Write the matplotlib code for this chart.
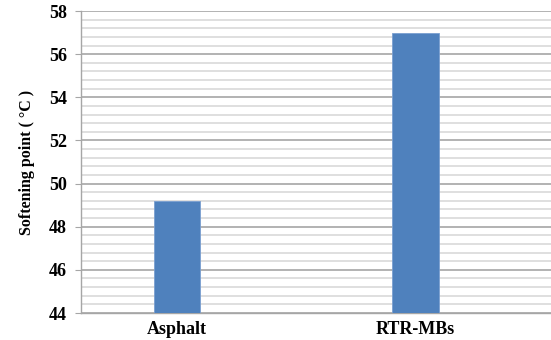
import matplotlib
matplotlib.use("Agg")
import matplotlib.pyplot as plt
from matplotlib.ticker import MultipleLocator

categories = ["Asphalt", "RTR-MBs"]
softening_point = [49.2, 57.0]

plt.rcParams["font.family"] = ["Liberation Serif", "DejaVu Serif"]

fig = plt.figure(figsize=(5.51, 3.40), dpi=100)
# plot area in pixels: left 81, right 551, top 11, bottom 313
ax = fig.add_axes([81 / 551, 27 / 340, 470 / 551, 302 / 340])

x = list(range(len(categories)))
ax.bar(x, softening_point, width=0.197, color="#4f81bd",
       edgecolor="#7a9fd0", linewidth=0.6, zorder=3)

ax.set_xlim(-0.403, 1.571)
ax.set_ylim(44, 58)
ax.yaxis.set_major_locator(MultipleLocator(2))
ax.yaxis.set_minor_locator(MultipleLocator(0.4))
ax.grid(which="major", axis="y", color="#a6a6a6", linewidth=1.2, zorder=0)
ax.grid(which="minor", axis="y", color="#d9d9d9", linewidth=1.2, zorder=0)

ax.set_xticks(x)
ax.set_xticklabels(categories, fontsize=13, fontweight="bold")
ax.tick_params(axis="x", length=0, pad=6)
ax.tick_params(axis="y", which="major", length=4, color="#a6a6a6",
               labelsize=13, pad=6)
ax.tick_params(axis="y", which="minor", length=0)
for lab in ax.get_yticklabels():
    lab.set_fontweight("bold")

for side in ["top", "right"]:
    ax.spines[side].set_visible(False)
for side in ["left", "bottom"]:
    ax.spines[side].set_color("#a6a6a6")
    ax.spines[side].set_linewidth(1.0)

ax.set_ylabel("Softening point ( °C )", fontsize=11.5, fontweight="bold",
              labelpad=10)

fig.savefig("out.png", dpi=100)
